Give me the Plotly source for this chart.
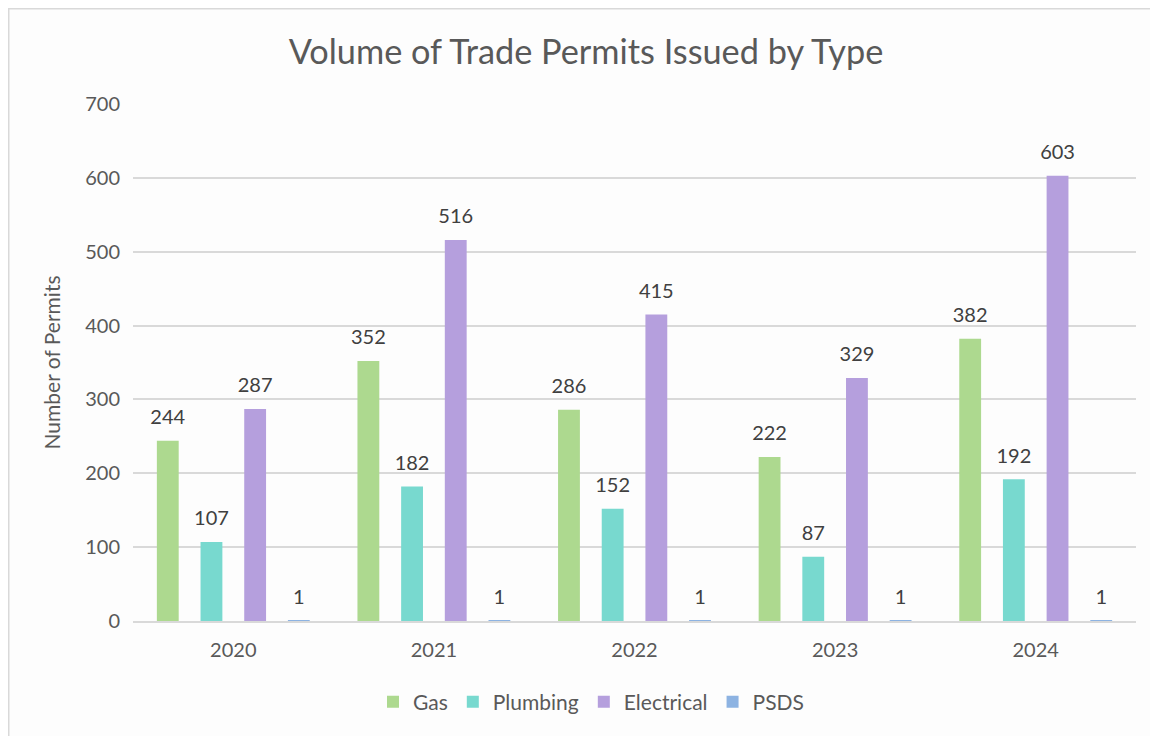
import plotly.graph_objects as go

years = ["2020", "2021", "2022", "2023", "2024"]
gas = [244, 352, 286, 222, 382]
plumbing = [107, 182, 152, 87, 192]
electrical = [287, 516, 415, 329, 603]
psds = [1, 1, 1, 1, 1]

series = [
    ("Gas", gas, "#ADD98F"),
    ("Plumbing", plumbing, "#78D9CF"),
    ("Electrical", electrical, "#B59FDD"),
    ("PSDS", psds, "#8DB3E2"),
]

FONT = "Lato, 'Open Sans', sans-serif"
GRAY = "#595959"

fig = go.Figure()
for name, vals, col in series:
    fig.add_trace(go.Bar(
        x=years, y=vals, name=name, marker=dict(color=col, line=dict(width=0)),
        hoverinfo="x+y+name",
    ))
for name, vals, col in series:
    fig.add_trace(go.Scatter(
        x=years, y=vals, mode="markers+text", text=[str(v) for v in vals],
        textposition="top center", cliponaxis=False, showlegend=False,
        marker=dict(size=17, opacity=0), hoverinfo="skip",
        textfont=dict(family=FONT, size=20, color="#404040"),
    ))

# page body has an 8px margin: lay the figure out so the plot lands where the reference has it
OFF = 8
W, H = 1158 - OFF, 736 - OFF
L, R, T, B = 133 - OFF, 22, 104 - OFF, 115
pw, ph = W - L - R, H - T - B

fig.update_layout(
    width=W, height=H,
    margin=dict(l=L, r=R, t=T, b=B),
    barmode="group", bargap=0.129, bargroupgap=0.5,
    scattermode="group", scattergap=0.129,
    paper_bgcolor="#fdfdfd", plot_bgcolor="#fdfdfd",
    font=dict(family=FONT, color=GRAY, size=20),
    title=dict(text="Volume of Trade Permits Issued by Type", x=(586 - OFF) / W, xanchor="center",
               y=1 - (52 - OFF) / H, yanchor="middle",
               font=dict(family=FONT, size=34.3, color=GRAY)),
    yaxis=dict(range=[0, 700], dtick=100, gridcolor="#d9d9d9", gridwidth=1.5,
               zeroline=False, showline=False, ticks="", ticklabelstandoff=12,
               tickfont=dict(size=20, color=GRAY),
               title=dict(text="Number of Permits", font=dict(size=21, color=GRAY), standoff=18)),
    xaxis=dict(showline=True, linecolor="#d9d9d9", linewidth=2, ticks="", ticklabelstandoff=10,
               tickfont=dict(size=20, color=GRAY)),
    legend=dict(orientation="h", x=(591 - OFF - L) / pw, xanchor="center",
                y=(T + ph - (702 - OFF)) / ph, yanchor="middle",
                font=dict(size=21, color=GRAY), itemwidth=30, traceorder="normal"),
    showlegend=True,
)

fig.add_shape(type="rect", xref="paper", yref="paper",
              x0=(0.5 - L) / pw, x1=(W + 10 - L) / pw,
              y0=(T + ph - (H + 10)) / ph, y1=(T + ph - 0.5) / ph,
              line=dict(color="#d9d9d9", width=2), fillcolor="rgba(0,0,0,0)", layer="below")

fig.write_html("out.html")
